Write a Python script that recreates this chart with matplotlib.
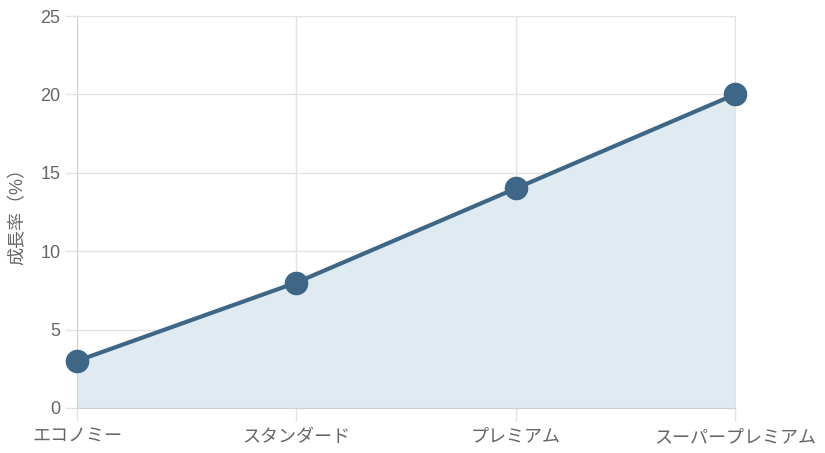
import matplotlib
matplotlib.use('Agg')
import matplotlib.pyplot as plt

# data
categories = ['エコノミー', 'スタンダード', 'プレミアム', 'スーパープレミアム']
growth = [3, 8, 14, 20]
y_ticks = [0, 5, 10, 15, 20, 25]

plt.rcParams['font.family'] = ['Liberation Sans', 'Noto Sans CJK JP', 'DejaVu Sans']

line_color = '#3e6687'
fill_color = '#dfebf1'
grid_color = '#e3e3e3'
text_color = '#666666'

fig = plt.figure(figsize=(8.25, 4.53), dpi=100)
ax = fig.add_axes([77 / 825, 1 - 408 / 453, (735 - 77) / 825, (408 - 16) / 453])

x = list(range(len(categories)))
ax.fill_between(x, growth, 0, color=fill_color, zorder=1)
ax.plot(x, growth, color=line_color, lw=3, marker='o', markersize=16,
        markerfacecolor=line_color, markeredgecolor=line_color, zorder=3,
        clip_on=False)

ax.set_xlim(0, len(categories) - 1)
ax.set_ylim(0, 25)
ax.set_xticks(x)
ax.set_xticklabels(categories)
ax.set_yticks(y_ticks)

ax.grid(True, color=grid_color, lw=1, zorder=0)
ax.set_axisbelow(True)
for s in ax.spines.values():
    s.set_color(grid_color)
ax.spines['left'].set_color('#d0d0d0')
ax.spines['bottom'].set_color('#d0d0d0')
ax.spines['right'].set_zorder(2)

ax.tick_params(axis='both', colors=grid_color, length=9, width=1,
               labelcolor=text_color, labelsize=13)
ax.tick_params(axis='y', pad=3)
ax.tick_params(axis='x', pad=6)

ax.set_ylabel('成長率（%）', color=text_color, fontsize=13, labelpad=10)

fig.savefig('out.png', dpi=100)
